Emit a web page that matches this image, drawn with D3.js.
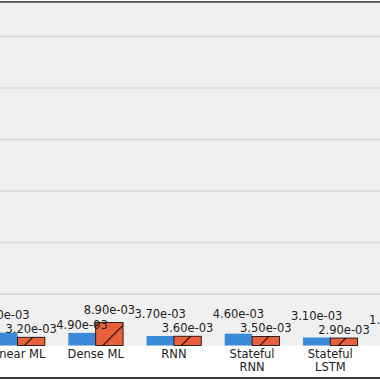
<!DOCTYPE html>
<html>
<head>
<meta charset="utf-8">
<script src="https://cdn.jsdelivr.net/npm/d3@7"></script>
<style>
  html, body { margin: 0; padding: 0; background: #ffffff; }
  svg { display: block; }
</style>
</head>
<body>
<div id="chart"></div>
<script>
// ---- data ----
const categories = ["Linear ML", "Dense ML", "RNN", "Stateful RNN", "Stateful LSTM", "Stateful GRU"];
const tickLabels = ["Linear ML", "Dense ML", "RNN", "Stateful\nRNN", "Stateful\nLSTM", "Stateful\nGRU"];
const seriesA = [5.0e-3, 4.9e-3, 3.7e-3, 4.6e-3, 3.1e-3, 1.8e-3];   // blue
const seriesB = [3.2e-3, 8.9e-3, 3.6e-3, 3.5e-3, 2.9e-3, 1.2e-3];   // red, hatched
const yTicks = [0, 0.02, 0.04, 0.06, 0.08, 0.10, 0.12];

// ---- layout ----
const W = 380, H = 380;
const plotTop = 2.5, plotBottom = 345.5;
const step = 78.2, x0 = -21.6;
const fontSize = 11.5;

const svg = d3.select("#chart").append("svg")
  .attr("width", W).attr("height", H)
  .attr("font-family", "DejaVu Sans, sans-serif");

const x = d3.scaleBand().domain(categories)
  .range([x0, x0 + step * categories.length]).padding(0);
const y = d3.scaleLinear().domain([0, 0.1332]).range([plotBottom, plotTop]);
const barW = x.bandwidth() * 0.35;

// hatch pattern
const p = 26.15;
const defs = svg.append("defs");
const pat = defs.append("pattern").attr("id", "hatch")
  .attr("patternUnits", "userSpaceOnUse")
  .attr("x", 3.9).attr("y", 0).attr("width", p).attr("height", p);
pat.append("path")
  .attr("d", `M-1,1 L1,-1 M0,${p} L${p},0 M${p-1},${p+1} L${p+1},${p-1}`)
  .attr("stroke", "#000").attr("stroke-width", 1);

// plot background
svg.append("rect").attr("x", 0).attr("y", plotTop).attr("width", W)
  .attr("height", plotBottom - plotTop).attr("fill", "#f0f0f0");

// grid
svg.append("g").selectAll("line").data(yTicks.filter(d => d > 0)).join("line")
  .attr("x1", 0).attr("x2", W)
  .attr("y1", d => y(d)).attr("y2", d => y(d))
  .attr("stroke", "#d8d8d8").attr("stroke-width", 1.3);

// bars
const idx = d3.range(categories.length);
const center = i => x(categories[i]) + x.bandwidth() / 2;

svg.append("g").selectAll("rect").data(idx).join("rect")
  .attr("x", i => center(i) - barW).attr("width", barW)
  .attr("y", i => y(seriesA[i])).attr("height", i => y(0) - y(seriesA[i]))
  .attr("fill", "#3a8ad8");

const gB = svg.append("g");
gB.selectAll("rect.f").data(idx).join("rect").attr("class", "f")
  .attr("x", i => center(i)).attr("width", barW)
  .attr("y", i => y(seriesB[i])).attr("height", i => y(0) - y(seriesB[i]))
  .attr("fill", "#e9603c");
gB.selectAll("rect.h").data(idx).join("rect").attr("class", "h")
  .attr("x", i => center(i)).attr("width", barW)
  .attr("y", i => y(seriesB[i])).attr("height", i => y(0) - y(seriesB[i]))
  .attr("fill", "url(#hatch)").attr("stroke", "#000").attr("stroke-width", 0.8);

// value labels (shorter bar label sits just above, taller one raised to avoid overlap)
const fmt = v => v.toExponential(2).replace(/e([+-])(\d)$/, "e$10$2");
const gap = 4, sep = 14.5;
const labels = [];
idx.forEach(i => {
  const ya = y(seriesA[i]) - gap, yb = y(seriesB[i]) - gap;
  let la, lb;
  if (seriesA[i] >= seriesB[i]) { lb = yb; la = Math.min(ya, lb - sep); }
  else { la = ya; lb = Math.min(yb, la - sep); }
  labels.push({ x: center(i) - barW / 2, y: la, t: fmt(seriesA[i]) });
  labels.push({ x: center(i) + barW / 2, y: lb, t: fmt(seriesB[i]) });
});
svg.append("g").selectAll("text").data(labels).join("text")
  .attr("x", d => d.x).attr("y", d => d.y)
  .attr("text-anchor", "middle").attr("font-size", fontSize).attr("fill", "#222")
  .text(d => d.t);

// x tick labels
const gx = svg.append("g");
idx.forEach(i => {
  const t = gx.append("text").attr("text-anchor", "middle")
    .attr("font-size", fontSize).attr("fill", "#222");
  tickLabels[i].split("\n").forEach((line, k) => {
    t.append("tspan").attr("x", center(i)).attr("y", 358 + k * 13).text(line);
  });
});

// frame lines
svg.append("line").attr("x1", 0).attr("x2", W).attr("y1", 1.8).attr("y2", 1.8)
  .attr("stroke", "#4a4a4a").attr("stroke-width", 1.7);
svg.append("line").attr("x1", 0).attr("x2", W).attr("y1", 378).attr("y2", 378)
  .attr("stroke", "#3a3a3a").attr("stroke-width", 2);
</script>
</body>
</html>
